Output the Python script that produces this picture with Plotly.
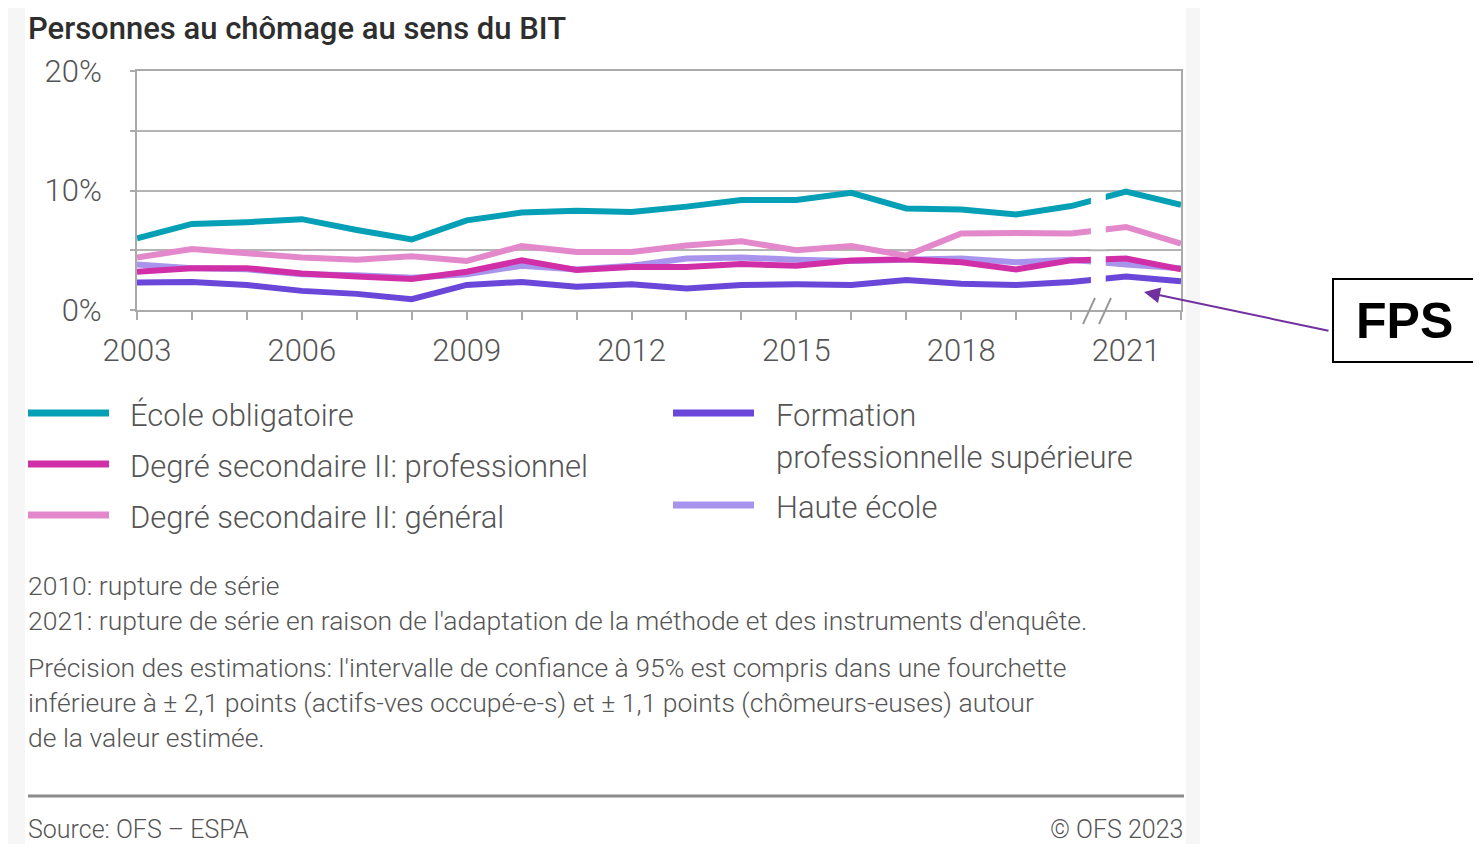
import plotly.graph_objects as go

# page shows the figure 8px in from the corner, so keep it inside the window
W, H = 1465, 836
OFF = 8

years = list(range(2003, 2023))

ecole_obligatoire = [6.0, 7.2, 7.35, 7.6, 6.7, 5.9, 7.5, 8.15, 8.3, 8.2,
                     8.65, 9.2, 9.2, 9.8, 8.5, 8.4, 8.0, 8.7, 9.9, 8.8]
sec2_pro = [3.2, 3.5, 3.5, 3.05, 2.8, 2.6, 3.2, 4.15, 3.35, 3.6,
            3.6, 3.85, 3.7, 4.15, 4.25, 4.0, 3.4, 4.15, 4.3, 3.4]
sec2_gen = [4.4, 5.1, 4.75, 4.4, 4.2, 4.5, 4.1, 5.35, 4.85, 4.85,
            5.4, 5.75, 5.0, 5.35, 4.55, 6.4, 6.45, 6.4, 6.95, 5.55]
fps = [2.3, 2.35, 2.1, 1.6, 1.35, 0.9, 2.1, 2.35, 1.95, 2.15,
       1.8, 2.1, 2.15, 2.1, 2.5, 2.2, 2.1, 2.35, 2.8, 2.4]
haute_ecole = [3.8, 3.5, 3.4, 3.0, 2.9, 2.7, 3.0, 3.7, 3.4, 3.7,
               4.3, 4.4, 4.2, 4.1, 4.2, 4.3, 4.0, 4.2, 3.8, 3.5]

year_labels = {2003: "2003", 2006: "2006", 2009: "2009", 2012: "2012",
               2015: "2015", 2018: "2018", 2021: "2021"}

series = [
    ("Haute école", haute_ecole, "#a894ec"),
    ("Degré secondaire II: professionnel", sec2_pro, "#d02fa8"),
    ("Degré secondaire II: général", sec2_gen, "#e389cb"),
    ("Formation professionnelle supérieure", fps, "#6a47d9"),
    ("École obligatoire", ecole_obligatoire, "#06a0b6"),
]

GREY = "#555555"
FONT = "Roboto"


def px(x):
    return (x - OFF) / W


def py(y):
    return 1 - (y - OFF) / H


fig = go.Figure()
for name, vals, color in series:
    fig.add_trace(go.Scatter(x=years, y=vals, name=name, mode="lines",
                             line=dict(color=color, width=6),
                             showlegend=False))

shapes = []
# card background
shapes.append(dict(type="rect", xref="paper", yref="paper", x0=0, x1=px(1200), y0=0, y1=1,
                   fillcolor="#f6f6f6", line_width=0, layer="below"))
shapes.append(dict(type="rect", xref="paper", yref="paper", x0=px(25), x1=px(1186), y0=0, y1=1,
                   fillcolor="white", line_width=0, layer="below"))
# series break gap between 2020 and 2021
shapes.append(dict(type="rect", xref="x", yref="y", x0=2020.36, x1=2020.63, y0=1.3, y1=9.75,
                   fillcolor="white", line_width=0, layer="above"))
shapes.append(dict(type="line", xref="x", yref="y", x0=2020.3, x1=2020.7, y0=5, y1=5,
                   line=dict(color="#b4b4b4", width=2), layer="above"))
# break marks on the x axis
for x0, x1 in [(1083, 1095), (1099, 1111)]:
    shapes.append(dict(type="line", xref="paper", yref="paper",
                       x0=px(x0), x1=px(x1), y0=py(324), y1=py(298),
                       line=dict(color="#9a9a9a", width=2)))

# legend
legend_items = [
    (28, 413, "#06a0b6", ["École obligatoire"], 130),
    (28, 464, "#d02fa8", ["Degré secondaire II: professionnel"], 130),
    (28, 515, "#e389cb", ["Degré secondaire II: général"], 130),
    (673, 413, "#6a47d9", ["Formation", "professionnelle supérieure"], 776),
    (673, 505, "#a894ec", ["Haute école"], 776),
]
annotations = []
for lx, ly, color, lines, tx in legend_items:
    shapes.append(dict(type="line", xref="paper", yref="paper",
                       x0=px(lx), x1=px(lx + 81), y0=py(ly), y1=py(ly),
                       line=dict(color=color, width=7)))
    for i, t in enumerate(lines):
        annotations.append(dict(text=t, xref="paper", yref="paper", x=px(tx - 2), y=py(ly + 2 + 42 * i),
                                xanchor="left", yanchor="middle", showarrow=False,
                                font=dict(family=FONT, size=31, color=GREY, weight=300)))

# footer rule
shapes.append(dict(type="line", xref="paper", yref="paper", x0=px(28), x1=px(1184),
                   y0=py(796), y1=py(796), line=dict(color="#8a8a8a", width=3)))
# FPS box
shapes.append(dict(type="rect", xref="paper", yref="paper", x0=px(1333), x1=px(1484),
                   y0=py(362), y1=py(279), line=dict(color="black", width=2),
                   fillcolor="white"))

annotations.append(dict(text="Personnes au chômage au sens du BIT", xref="paper", yref="paper",
                        x=px(26), y=py(28), xanchor="left", yanchor="middle", showarrow=False,
                        font=dict(family=FONT, size=31, color="#2e2e2e", weight=500)))

notes = [
    (585, "2010: rupture de série"),
    (620, "2021: rupture de série en raison de l'adaptation de la méthode et des instruments d'enquête."),
    (667, "Précision des estimations: l'intervalle de confiance à 95% est compris dans une fourchette"),
    (702, "inférieure à ± 2,1 points (actifs-ves occupé-e-s) et ± 1,1 points (chômeurs-euses) autour"),
    (737, "de la valeur estimée."),
]
for y, t in notes:
    annotations.append(dict(text=t, xref="paper", yref="paper", x=px(26), y=py(y),
                            xanchor="left", yanchor="middle", showarrow=False,
                            font=dict(family=FONT, size=26.5, color=GREY, weight=300)))

annotations.append(dict(text="Source: OFS – ESPA", xref="paper", yref="paper", x=px(26), y=py(829),
                        xanchor="left", yanchor="middle", showarrow=False,
                        font=dict(family=FONT, size=25, color=GREY, weight=300)))
annotations.append(dict(text="© OFS 2023", xref="paper", yref="paper", x=px(1185), y=py(829),
                        xanchor="right", yanchor="middle", showarrow=False,
                        font=dict(family=FONT, size=25, color=GREY, weight=300)))

annotations.append(dict(text="<b>FPS</b>", xref="paper", yref="paper", x=px(1404), y=py(321),
                        xanchor="center", yanchor="middle", showarrow=False,
                        font=dict(family="Liberation Sans", size=50, color="black")))
annotations.append(dict(text="", xref="paper", yref="paper", x=px(1144), y=py(292),
                        ax=1330 - 1144, ay=331 - 292, axref="pixel", ayref="pixel",
                        showarrow=True, arrowhead=2, arrowsize=1.6, arrowwidth=2,
                        arrowcolor="#7030a0"))

fig.update_layout(
    width=W, height=H,
    margin=dict(l=0, r=0, t=0, b=0, autoexpand=False),
    paper_bgcolor="white", plot_bgcolor="white",
    shapes=shapes, annotations=annotations,
    xaxis=dict(domain=[px(137), px(1181)], range=[2003, 2022], automargin=False,
               tickvals=years, ticktext=[year_labels.get(y, "") for y in years],
               ticks="outside", ticklen=8, tickwidth=2, tickcolor="#aaaaaa",
               showgrid=False, zeroline=False,
               showline=True, mirror=True, linecolor="#aaaaaa", linewidth=2,
               ticklabelstandoff=4,
               tickfont=dict(family=FONT, size=31, color=GREY, weight=300)),
    yaxis=dict(domain=[py(310), py(71)], range=[0, 20], automargin=False,
               tickvals=[0, 5, 10, 15, 20], ticktext=["0%", "", "10%", "", "20%"],
               ticks="outside", ticklen=5, tickwidth=2, tickcolor="#aaaaaa",
               showgrid=True, gridcolor="#b4b4b4", gridwidth=2, zeroline=False,
               showline=True, mirror=True, linecolor="#aaaaaa", linewidth=2,
               ticklabelstandoff=22,
               tickfont=dict(family=FONT, size=31, color=GREY, weight=300)),
)

fig.write_html("out.html")
